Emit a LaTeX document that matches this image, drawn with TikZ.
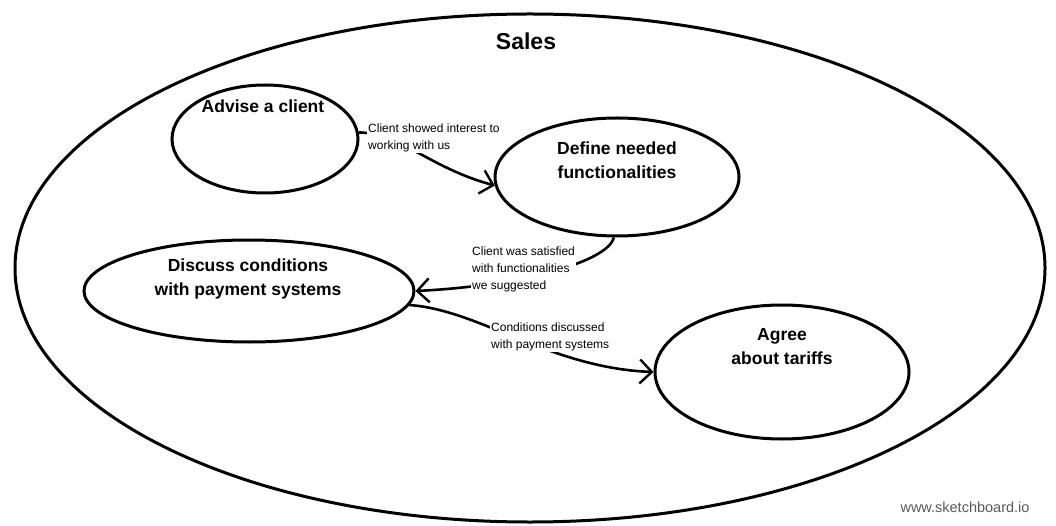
\documentclass[tikz,border=0pt]{standalone}
\usepackage{fontspec}
\setmainfont{Liberation Sans}
\usetikzlibrary{shapes.geometric,arrows.meta}
\begin{document}
\begin{tikzpicture}[x=1pt,y=-1pt,
  proc/.style={ellipse,draw,line width=3pt,inner sep=0pt},
  ptext/.style={font=\fontsize{17.5}{24}\selectfont\bfseries,align=center,inner sep=0pt},
  elabel/.style={font=\fontsize{12}{17}\selectfont,align=left,fill=white,inner sep=1pt,anchor=north west},
  conn/.style={line width=2.6pt,-{Straight Barb[length=12pt,width=24pt,line width=2.4pt]}}]
\useasboundingbox (0,0) rectangle (1056,526);
\node[proc,minimum width=1030pt,minimum height=508pt] (sales) at (530,268) {};
\node[ptext,font=\fontsize{23}{28}\selectfont\bfseries] (salestext) at (526,41) {Sales};

\node[proc,minimum width=186pt,minimum height=108pt] (advise) at (265,139) {};
\node[ptext] (advisetext) at (263,106) {Advise a client};

\node[proc,minimum width=244pt,minimum height=118pt] (define) at (617,177) {};
\node[ptext] (definetext) at (617,160) {Define needed\\functionalities};

\node[proc,minimum width=330pt,minimum height=102pt] (discuss) at (249,291) {};
\node[ptext] (discusstext) at (248,279) {Discuss conditions\\with payment systems};

\node[proc,minimum width=254pt,minimum height=134pt] (agree) at (782,372) {};
\node[ptext] (agreetext) at (782,347) {Agree\\about tariffs};

\draw[conn] (advise.4) .. controls (400,133) and (430,168) .. (define.184);
\node[elabel] (l1) at (367,123) {Client showed interest to\\working with us};

\draw[conn] (define.267) .. controls (608,262) and (520,286) .. (discuss.0);
\node[elabel] (l2) at (471,246) {Client was satisfied\\with functionalities\\we suggested};

\draw[conn] (discuss.-5) .. controls (480,310) and (550,368) .. (agree.180);
\node[elabel] (l3) at (490,322) {Conditions discussed\\with payment systems};

\node[font=\fontsize{14.5}{16}\selectfont,text=black!65,inner sep=0pt] (wm) at (965,507) {www.sketchboard.io};
\end{tikzpicture}
\end{document}
